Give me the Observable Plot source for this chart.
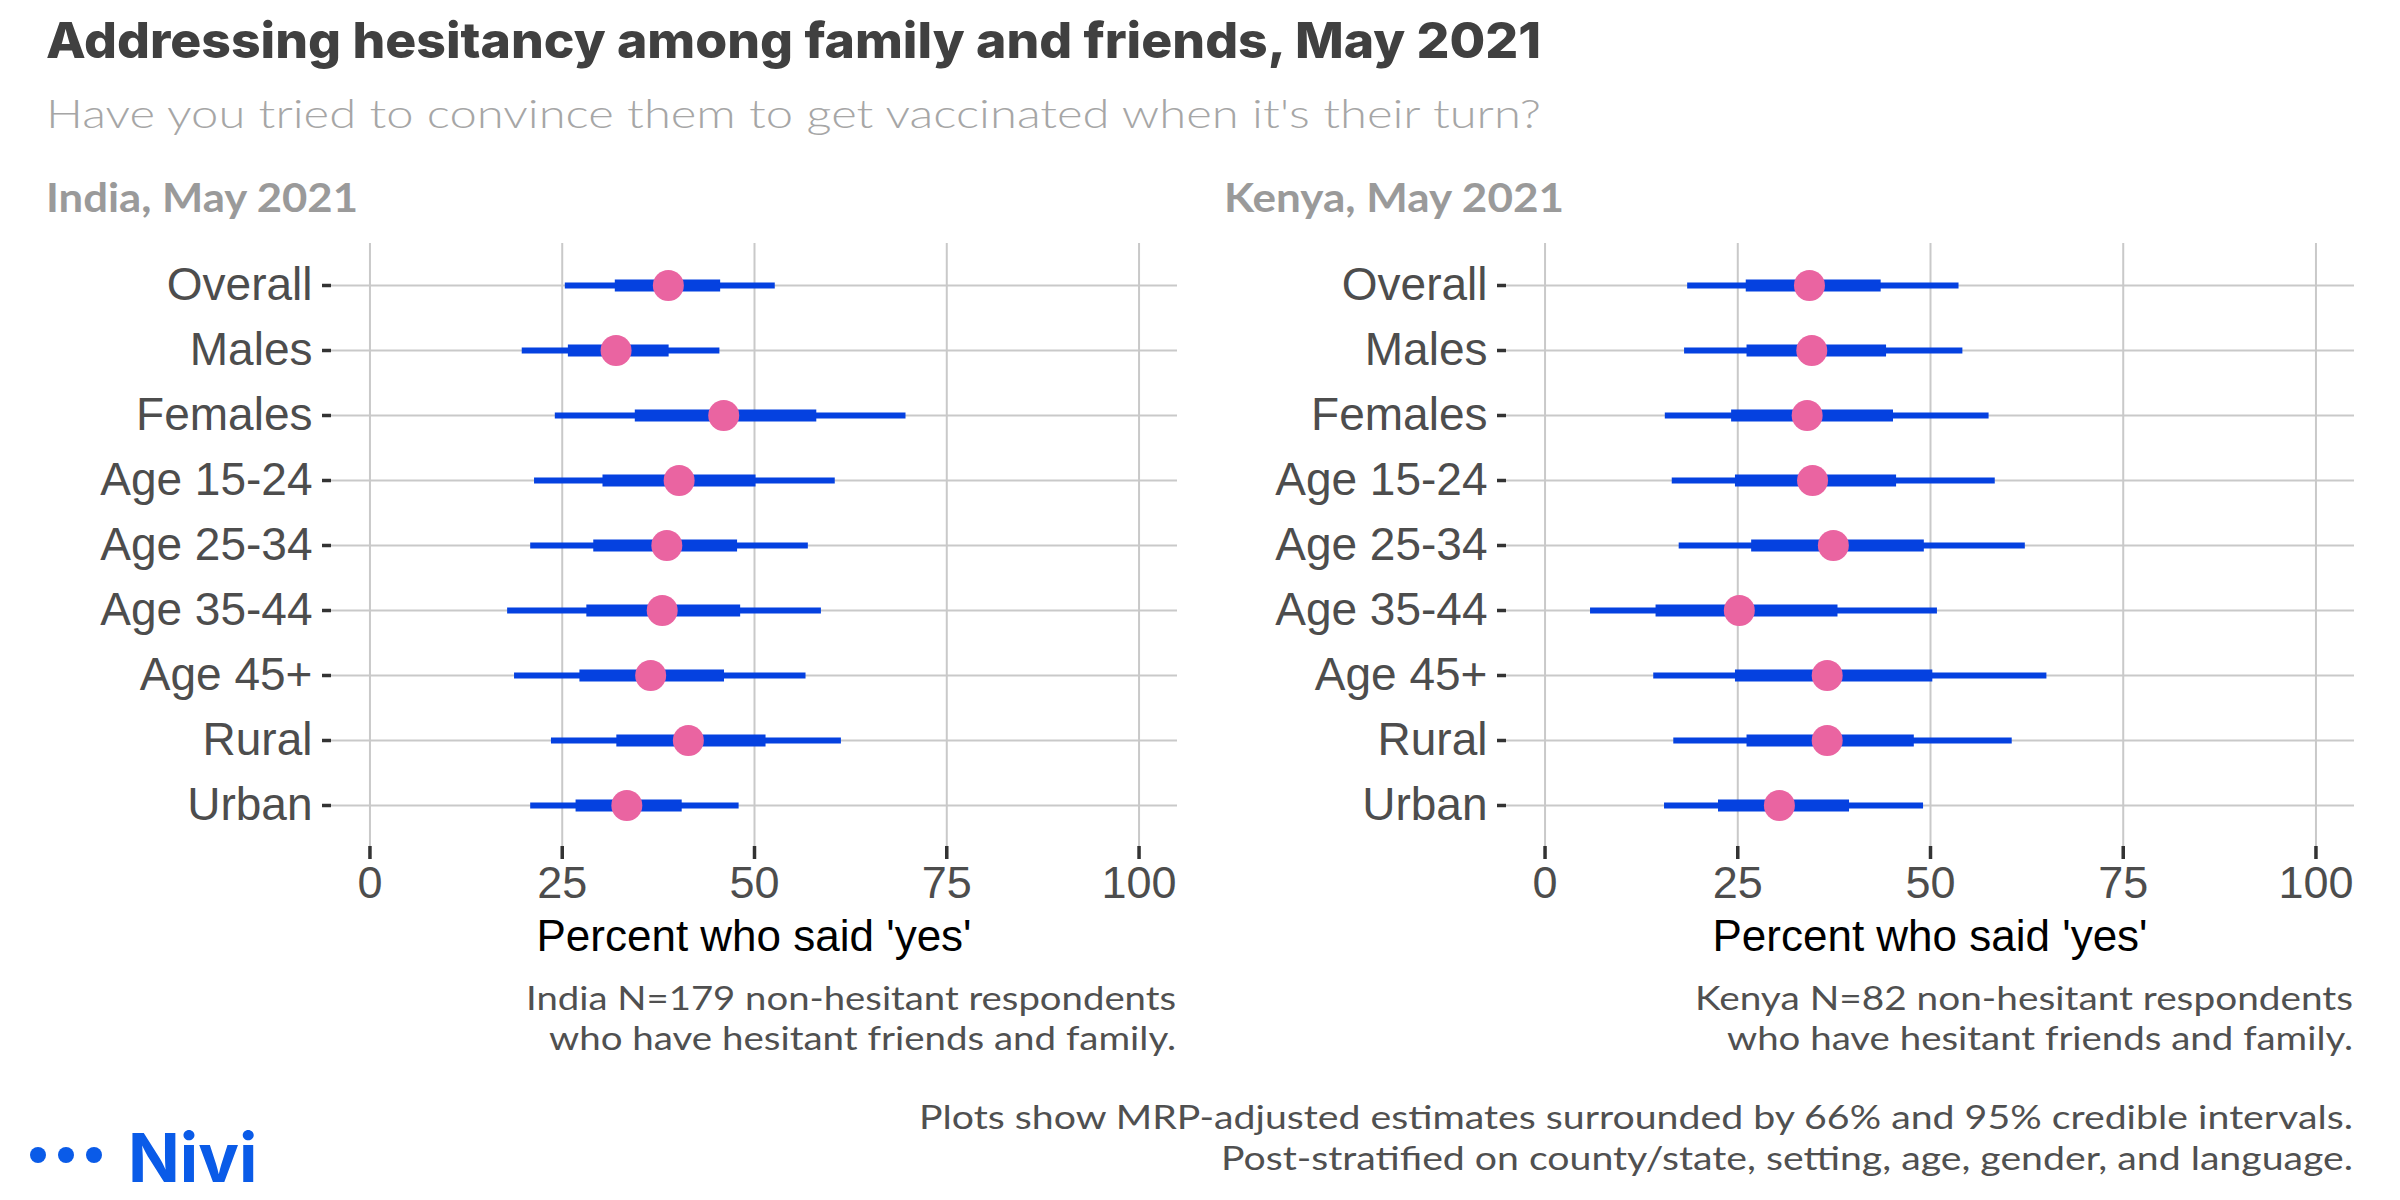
<!DOCTYPE html>
<html><head><meta charset="utf-8">
<script src="https://cdn.jsdelivr.net/npm/d3@7"></script>
<script src="https://cdn.jsdelivr.net/npm/@observablehq/plot@0.6"></script>
<style>
html,body{margin:0;padding:0;background:#fff;}
#page{position:relative;width:2400px;height:1200px;overflow:hidden;background:#fff;}
.panel{position:absolute;top:230px;}
#overlay{position:absolute;left:0;top:0;}
</style></head><body><div id="page"></div>
<script>
const categories = ["Overall","Males","Females","Age 15-24","Age 25-34","Age 35-44","Age 45+","Rural","Urban"];
const xTicks = [0, 25, 50, 75, 100];

const indiaLo95 = [25.4, 19.8, 24.1, 21.4, 20.9, 17.9, 18.8, 23.6, 20.9];
const indiaLo66 = [31.9, 25.8, 34.5, 30.3, 29.1, 28.2, 27.3, 32.1, 26.8];
const indiaEst  = [38.8, 32.0, 46.0, 40.2, 38.6, 38.0, 36.5, 41.4, 33.4];
const indiaHi66 = [45.6, 38.9, 58.1, 50.2, 47.8, 48.2, 46.1, 51.5, 40.6];
const indiaHi95 = [52.7, 45.5, 69.7, 60.5, 57.0, 58.7, 56.7, 61.3, 48.0];

const kenyaLo95 = [18.5, 18.1, 15.6, 16.5, 17.4, 5.9, 14.1, 16.7, 15.5];
const kenyaLo66 = [26.1, 26.2, 24.2, 24.7, 26.8, 14.4, 24.7, 26.2, 22.5];
const kenyaEst  = [34.3, 34.6, 34.0, 34.7, 37.4, 25.2, 36.6, 36.6, 30.4];
const kenyaHi66 = [43.6, 44.3, 45.2, 45.6, 49.2, 38.0, 50.3, 47.9, 39.5];
const kenyaHi95 = [53.7, 54.2, 57.6, 58.4, 62.3, 50.9, 65.1, 60.6, 49.1];

const BLUE = "#0541e0", PINK = "#ea64a1", GRID = "#c9c9c9";

function rows(lo95, lo66, est, hi66, hi95) {
  return categories.map((c, i) => ({cat: c, lo95: lo95[i], lo66: lo66[i], est: est[i], hi66: hi66[i], hi95: hi95[i]}));
}

function panel(data, marginLeft, marginRight) {
  return Plot.plot({
    width: 1200, height: 700,
    marginTop: 13, marginBottom: 84, marginLeft, marginRight,
    style: {fontFamily: "'Liberation Sans', Arial, sans-serif", fontSize: "45px", background: "transparent", overflow: "visible"},
    x: {domain: [-5, 105], label: null},
    y: {type: "point", domain: categories, padding: 0.6, label: null},
    marks: [
      Plot.gridX(xTicks, {stroke: GRID, strokeOpacity: 1, strokeWidth: 2}),
      Plot.gridY(categories, {stroke: GRID, strokeOpacity: 1, strokeWidth: 2}),
      Plot.axisX(xTicks, {tickSize: 13, tickPadding: 7, stroke: "#333", fill: "#4d4d4d", strokeWidth: 3.5, fontSize: 45, label: null}),
      Plot.axisY(categories, {tickSize: 9, tickPadding: 10, stroke: "#333", fill: "#4d4d4d", strokeWidth: 3.5, fontSize: 46, label: null}),
      Plot.ruleY(data, {y: "cat", x1: "lo95", x2: "hi95", stroke: BLUE, strokeWidth: 6}),
      Plot.ruleY(data, {y: "cat", x1: "lo66", x2: "hi66", stroke: BLUE, strokeWidth: 12}),
      Plot.dot(data, {x: "est", y: "cat", r: 15.5, fill: PINK, stroke: null})
    ]
  });
}

const page = document.getElementById("page");
const india = panel(rows(indiaLo95, indiaLo66, indiaEst, indiaHi66, indiaHi95), 331, 23);
india.classList.add("panel"); india.style.left = "0px";
page.appendChild(india);
const kenya = panel(rows(kenyaLo95, kenyaLo66, kenyaEst, kenyaHi66, kenyaHi95), 306, 46);
kenya.classList.add("panel"); kenya.style.left = "1200px";
page.appendChild(kenya);

const overlay = document.createElementNS("http://www.w3.org/2000/svg", "svg");
overlay.setAttribute("id", "overlay");
overlay.setAttribute("width", 2400);
overlay.setAttribute("height", 1200);
overlay.innerHTML = `
<text x="46" y="58" font-family="Inter, 'Open Sans', sans-serif" font-weight="800" font-size="50" fill="#404040" textLength="1495" lengthAdjust="spacingAndGlyphs">Addressing hesitancy among family and friends, May 2021</text>
<text x="46" y="128" font-family="Lato, sans-serif" font-weight="300" font-size="40" fill="#a6a6a6" textLength="1495" lengthAdjust="spacingAndGlyphs">Have you tried to convince them to get vaccinated when it's their turn?</text>
<text x="46" y="212" font-family="Lato, sans-serif" font-weight="700" font-size="41" fill="#9a9a9a" textLength="312" lengthAdjust="spacingAndGlyphs">India, May 2021</text>
<text x="1224" y="212" font-family="Lato, sans-serif" font-weight="700" font-size="41" fill="#9a9a9a" textLength="340" lengthAdjust="spacingAndGlyphs">Kenya, May 2021</text>
<g font-family="'Liberation Sans', Arial, sans-serif" font-size="44" fill="#000" text-anchor="middle">
  <text x="754" y="951">Percent who said 'yes'</text>
  <text x="1930" y="951">Percent who said 'yes'</text>
</g>
<g font-family="Lato, sans-serif" font-weight="400" font-size="33" fill="#505050" text-anchor="end">
  <text x="1176" y="1010" textLength="650" lengthAdjust="spacingAndGlyphs">India N=179 non-hesitant respondents</text>
  <text x="1176" y="1050" textLength="627" lengthAdjust="spacingAndGlyphs">who have hesitant friends and family.</text>
  <text x="2353" y="1010" textLength="658" lengthAdjust="spacingAndGlyphs">Kenya N=82 non-hesitant respondents</text>
  <text x="2353" y="1050" textLength="626" lengthAdjust="spacingAndGlyphs">who have hesitant friends and family.</text>
  <text x="2353" y="1129" textLength="1434" lengthAdjust="spacingAndGlyphs">Plots show MRP-adjusted estimates surrounded by 66% and 95% credible intervals.</text>
  <text x="2353" y="1170" textLength="1132" lengthAdjust="spacingAndGlyphs">Post-stratified on county/state, setting, age, gender, and language.</text>
</g>
<g fill="#0a5be8">
  <circle cx="38" cy="1155" r="8"/>
  <circle cx="66" cy="1155" r="8"/>
  <circle cx="94" cy="1155" r="8"/>
  <text x="128" y="1182" font-family="Inter, sans-serif" font-weight="700" font-size="68">Nivi</text>
</g>`;
page.appendChild(overlay);
</script>
</body></html>
